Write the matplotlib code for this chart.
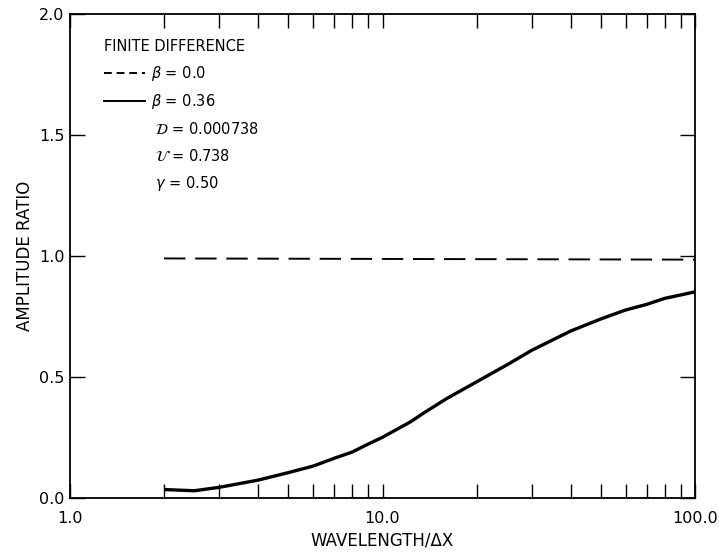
import matplotlib.pyplot as plt
from matplotlib.lines import Line2D

# amplitude ratio vs wavelength / dx
wl_dashed = [2.0, 100.0]
amp_dashed = [0.99, 0.985]

wl_solid = [2.0, 2.5, 3.0, 4.0, 5.0, 6.0, 7.0, 8.0, 9.0, 10.0, 12.3, 13.5,
            16.0, 20.0, 25.0, 30.0, 40.0, 50.0, 60.0, 70.0, 80.0, 90.0, 100.0]
amp_solid = [0.035, 0.030, 0.044, 0.074, 0.105, 0.132, 0.164, 0.19, 0.223,
             0.251, 0.315, 0.35, 0.41, 0.48, 0.55, 0.61, 0.69, 0.74, 0.777,
             0.80, 0.825, 0.839, 0.852]

xticks = [1, 10, 100]
xtick_labels = ["1.0", "10.0", "100.0"]
yticks = [0.0, 0.5, 1.0, 1.5, 2.0]
ytick_labels = ["0.0", "0.5", "1.0", "1.5", "2.0"]

params = [r"$\mathcal{D}$ = 0.000738", r"$\mathcal{U}$ = 0.738", r"$\gamma$ = 0.50"]

plt.rcParams["font.family"] = ["DejaVu Sans"]

fig = plt.figure(figsize=(7.19, 5.56), dpi=100)
ax = fig.add_axes([0.0974, 0.1043, 0.8692, 0.8705])

ax.plot(wl_dashed, amp_dashed, color="black", lw=1.4, dashes=(11, 5))
ax.plot(wl_solid, amp_solid, color="black", lw=2.4, solid_capstyle="butt")

ax.set_xscale("log")
ax.set_xlim(1, 100)
ax.set_ylim(0, 2.0)
ax.set_xticks(xticks)
ax.set_xticklabels(xtick_labels)
ax.set_yticks(yticks)
ax.set_yticklabels(ytick_labels)

ax.tick_params(axis="both", which="major", direction="in", width=1.0,
               top=True, right=True, labelsize=11.5)
ax.tick_params(axis="x", which="minor", direction="in", length=10, width=1.0,
               top=True, bottom=True)
ax.tick_params(axis="y", which="major", length=11, pad=4)
ax.tick_params(axis="x", which="major", length=10, pad=9)
for s in ax.spines.values():
    s.set_linewidth(1.3)

ax.set_xlabel("WAVELENGTH/ΔX", fontsize=12, labelpad=4)
ax.set_ylabel("AMPLITUDE RATIO", fontsize=12)
ax.yaxis.set_label_coords(-0.058, 0.5)

handles = [Line2D([], [], color="black", lw=1.4, dashes=(4, 2.5)),
           Line2D([], [], color="black", lw=1.4)]
leg = ax.legend(handles, [r"$\beta$ = 0.0", r"$\beta$ = 0.36"],
                title="FINITE DIFFERENCE", loc="upper left",
                bbox_to_anchor=(0.045, 0.96), frameon=False, fontsize=10.5,
                title_fontsize=10.5, handlelength=2.8, handletextpad=0.4,
                labelspacing=0.65, borderaxespad=0)
leg._legend_box.align = "left"

for i, t in enumerate(params):
    ax.text(0.136, 0.762 - i * 0.056, t, transform=ax.transAxes,
            fontsize=10.5, va="center", ha="left")

fig.savefig("out.png", dpi=100)
plt.close(fig)
